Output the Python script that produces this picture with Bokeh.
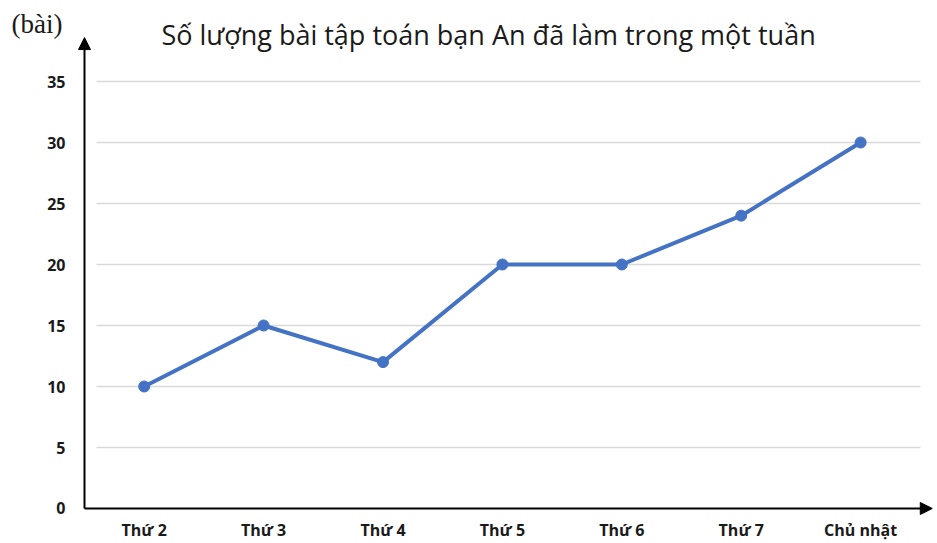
from bokeh.plotting import figure
from bokeh.models import Range1d, Arrow, NormalHead
from bokeh.core.properties import value
from bokeh.embed import file_html
from bokeh.resources import INLINE

days = ["Thứ 2", "Thứ 3", "Thứ 4", "Thứ 5", "Thứ 6", "Thứ 7", "Chủ nhật"]
counts = [10, 15, 12, 20, 20, 24, 30]
y_ticks = [0, 5, 10, 15, 20, 25, 30, 35]
title_text = "Số lượng bài tập toán bạn An đã làm trong một tuần"
unit_text = "(bài)"

xs = list(range(len(days)))

p = figure(width=935, height=541, output_backend="svg", toolbar_location=None,
           x_range=Range1d(-1.2035, 6.627), y_range=Range1d(-2.705, 41.64),
           min_border=0, min_border_left=0, min_border_right=0,
           min_border_top=0, min_border_bottom=0)
p.axis.visible = False
p.outline_line_color = None
p.background_fill_color = "white"
p.border_fill_color = "white"
p.xgrid.visible = False
p.ygrid.visible = False

# gridlines
grid_y = [t for t in y_ticks if t > 0]
p.segment(x0=[-0.4] * len(grid_y), y0=grid_y, x1=[6.5] * len(grid_y), y1=grid_y,
          line_color="#d9d9d9", line_width=1.5)

# axes arrows
p.add_layout(Arrow(x_start=-0.5, y_start=0, x_end=-0.5, y_end=38.6, line_color="black", line_width=2,
                   end=NormalHead(size=12, fill_color="black", line_color="black")))
p.add_layout(Arrow(x_start=-0.5, y_start=0, x_end=6.6, y_end=0, line_color="black", line_width=2,
                   end=NormalHead(size=12, fill_color="black", line_color="black")))

# data
p.line(xs, counts, line_color="#4472C4", line_width=4)
p.scatter(xs, counts, size=11, fill_color="#4472C4", line_color="#4472C4")

# tick labels
p.text(x=[-0.5] * len(y_ticks), y=y_ticks, text=[str(t) for t in y_ticks],
       x_offset=-19, text_align="right", text_baseline="middle",
       text_font=value("Open Sans"), text_font_style="bold", text_font_size="16px",
       text_color="#1a1a1a")
p.text(x=xs, y=[0] * len(xs), text=days, y_offset=22,
       text_align="center", text_baseline="alphabetic",
       text_font=value("Open Sans"), text_font_style="bold", text_font_size="16px",
       text_color="#1a1a1a")

# title and unit
p.text(x=[2.884], y=[38.85], text=[title_text], text_align="center", text_baseline="alphabetic",
       text_font=value("Open Sans"), text_font_size="27px", text_color="#1a1a1a")
p.text(x=[-1.111], y=[39.7], text=[unit_text], text_align="left", text_baseline="alphabetic",
       text_font=value("Liberation Serif"), text_font_size="27px", text_color="#1a1a1a")

open("out.html", "w").write(file_html(p, INLINE))
